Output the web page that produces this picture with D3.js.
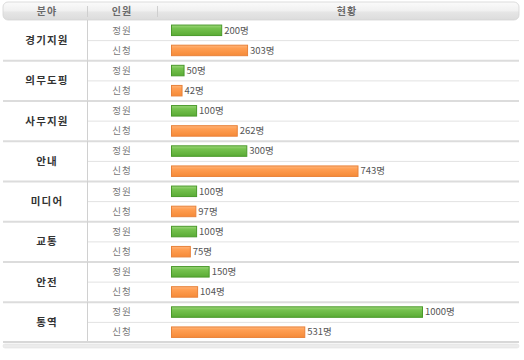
<!DOCTYPE html>
<html><head><meta charset="utf-8">
<script src="https://cdn.jsdelivr.net/npm/d3@7/dist/d3.min.js"></script>
<style>
body{margin:0;background:#fff;}
svg{display:block;font-family:"Noto Sans CJK KR","Noto Sans",sans-serif;}
</style></head>
<body>
<svg id="c" width="524" height="360"></svg>
<script>
const headers = ["분야","인원","현황"];
const categories = ["경기지원","의무도핑","사무지원","안내","미디어","교통","안전","통역"];
const subLabels = ["정원","신청"];
const quota = [200,50,100,300,100,100,150,1000];
const applied = [303,42,262,743,97,75,104,531];
const unit = "명";

const svg = d3.select("#c");
const defs = svg.append("defs");
function grad(id, stops){
  const g = defs.append("linearGradient").attr("id",id).attr("x1",0).attr("y1",0).attr("x2",0).attr("y2",1);
  stops.forEach(s=>g.append("stop").attr("offset",s[0]).attr("stop-color",s[1]));
}
grad("hdr",[[0,"#fbfbfb"],[0.5,"#f0f0f0"],[0.55,"#e6e6e6"],[1,"#dcdcdc"]]);
grad("gr",[[0,"#9fd77c"],[0.3,"#76c24f"],[1,"#5aab35"]]);
grad("or",[[0,"#ffb57a"],[0.3,"#ff9e52"],[1,"#f58a38"]]);

const left = 3, right = 519;
const colDiv1 = 87, colDiv2 = 157;

// header
svg.append("rect").attr("x",left).attr("y",2).attr("width",right-left).attr("height",18)
  .attr("rx",5).attr("fill","url(#hdr)").attr("stroke","#d4d4d4").attr("stroke-width",0.8);
[colDiv1,colDiv2].forEach(x=>svg.append("line").attr("x1",x+0.5).attr("x2",x+0.5).attr("y1",6).attr("y2",17).attr("stroke","#cfcfcf"));
const hx = [47,122,347];
headers.forEach((h,i)=>svg.append("text").attr("x",hx[i]).attr("y",14.5).attr("text-anchor","middle")
  .attr("font-size",10).attr("font-weight","bold").attr("letter-spacing",1).attr("fill","#6a6a6a").text(h));

const yG = d3.scaleBand().domain(categories).range([20,342]);
const yS = d3.scaleBand().domain(subLabels).range([0,yG.bandwidth()]);
const x = d3.scaleLinear().domain([0,1000]).range([171,422]);

const g = svg.selectAll("g.grp").data(categories).join("g").attr("class","grp")
  .attr("transform",d=>`translate(0,${yG(d)})`);

// sub divider
g.append("line").attr("x1",colDiv1).attr("x2",right).attr("y1",yS("신청")+0.5).attr("y2",yS("신청")+0.5).attr("stroke","#e2e2e2");
// group divider
g.filter((d,i)=>i>0).append("line").attr("x1",left).attr("x2",right).attr("y1",0.5).attr("y2",0.5).attr("stroke","#dcdcdc").attr("stroke-width",2);
// vertical
g.append("line").attr("x1",colDiv1+0.5).attr("x2",colDiv1+0.5).attr("y1",0).attr("y2",yG.bandwidth()).attr("stroke","#d0d0d0");

g.append("text").attr("x",47).attr("y",yG.bandwidth()/2+4).attr("text-anchor","middle")
  .attr("font-size",10.5).attr("font-weight","bold").attr("letter-spacing",1.2).attr("fill","#333").text(d=>d);

subLabels.forEach((s,si)=>{
  const vals = si===0?quota:applied;
  const fill = si===0?"url(#gr)":"url(#or)";
  const stroke = si===0?"#4a9a2a":"#e8823a";
  g.append("text").attr("x",122).attr("y",yS(s)+yS.bandwidth()/2+3.5).attr("text-anchor","middle")
    .attr("font-size",9.5).attr("letter-spacing",1).attr("fill","#777").text(s);
  g.append("rect").attr("x",x(0)+0.5).attr("y",yS(s)+yS.bandwidth()/2-5.5+0.5)
    .attr("width",(d,i)=>x(vals[i])-x(0)).attr("height",10.5)
    .attr("fill",fill).attr("stroke",stroke).attr("stroke-width",1);
  g.append("text").attr("x",(d,i)=>x(vals[i])+3).attr("y",yS(s)+yS.bandwidth()/2+3.5)
    .attr("font-size",9.5).attr("fill","#555").text((d,i)=>vals[i]+unit);
});

// bottom
svg.append("line").attr("x1",left).attr("x2",right).attr("y1",342).attr("y2",342).attr("stroke","#d8d8d8").attr("stroke-width",2);
svg.append("rect").attr("x",left).attr("y",344).attr("width",right-left).attr("height",4).attr("rx",2)
  .attr("fill","#ececec").attr("stroke","#e0e0e0").attr("stroke-width",0.6);
</script>
</body></html>
